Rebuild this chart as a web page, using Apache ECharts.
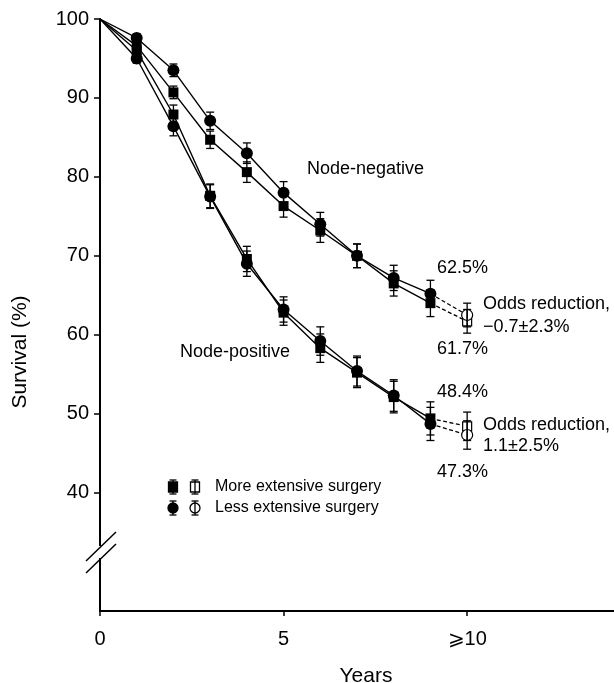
<!DOCTYPE html>
<html>
<head>
<meta charset="utf-8">
<script src="https://cdn.jsdelivr.net/npm/echarts@6/dist/echarts.min.js"></script>
<style>html,body{margin:0;padding:0;background:#fff}#c{width:614px;height:683px}</style>
</head>
<body>
<div id="c"></div>
<script>
// ---- data ----
const years = [0, 1, 2, 3, 4, 5, 6, 7, 8, 9];
const finalYear = 10;
const negLess = [100, 97.6, 93.5, 87.1, 83.0, 78.0, 74.0, 70.0, 67.2, 65.2];
const negMore = [100, 96.6, 90.7, 84.7, 80.6, 76.3, 73.2, 70.0, 66.5, 64.0];
const posLess = [100, 95.0, 86.4, 77.5, 69.0, 63.2, 59.2, 55.4, 52.3, 48.7];
const posMore = [100, 96.0, 87.9, 77.6, 69.6, 62.8, 58.3, 55.2, 52.1, 49.4];
const negLessFinal = 62.5, negMoreFinal = 61.7, posLessFinal = 47.3, posMoreFinal = 48.4;
const negErr = [0, 0.5, 0.8, 1.1, 1.3, 1.4, 1.5, 1.5, 1.6, 1.7];
const negErrFinal = 1.5;
const posErr = [0, 0.6, 1.2, 1.5, 1.6, 1.6, 1.8, 1.9, 2.0, 2.1];
const posErrFinal = 1.8;
const yTicks = [40, 50, 60, 70, 80, 90, 100];
const xTicks = [0, 5, 10];
const xTickLabels = {0: '0', 5: '5', 10: '\u2A7E10'};

const FONT = '"Liberation Sans", Arial, Helvetica, sans-serif';

function pts(arr) { return years.map((x, i) => [x, arr[i]]); }
function filledPts(arr) { return years.slice(1).map((x, i) => [x, arr[i + 1]]); }
function errPts(arr, err, fin, finErr) {
  const out = years.slice(1).map((x, i) => [x, arr[i + 1], err[i + 1]]);
  out.push([finalYear, fin, finErr]);
  return out;
}

const lineStyle = {color: '#000', width: 1.4};
function solid(arr) {
  return {type: 'line', data: pts(arr), symbol: 'none', lineStyle: lineStyle, z: 2, silent: true, animation: false};
}
function dashed(arr, fin) {
  return {type: 'line', data: [[9, arr[9]], [finalYear, fin]], symbol: 'none',
    lineStyle: {color: '#000', width: 1.3, type: [4, 2.5]}, z: 2, silent: true, animation: false};
}
function filled(arr, sym, size) {
  return {type: 'scatter', data: filledPts(arr), symbol: sym, symbolSize: size,
    itemStyle: {color: '#000', opacity: 1}, z: 4, silent: true, animation: false};
}
function open(fin, sym, size) {
  return {type: 'scatter', data: [[finalYear, fin]], symbol: sym, symbolSize: size,
    itemStyle: {color: '#fff', borderColor: '#000', borderWidth: 1.2, opacity: 1}, z: 4, silent: true, animation: false};
}
function errSeries(data) {
  return {
    type: 'custom', data: data, z: 5, silent: true, animation: false,
    renderItem: function (params, api) {
      const x = api.value(0), y = api.value(1), e = api.value(2);
      const top = api.coord([x, y + e]);
      const bot = api.coord([x, y - e]);
      const w = 4;
      const st = {stroke: '#000', lineWidth: 1.3};
      return {type: 'group', children: [
        {type: 'line', shape: {x1: top[0], y1: top[1], x2: bot[0], y2: bot[1]}, style: st},
        {type: 'line', shape: {x1: top[0] - w, y1: top[1], x2: top[0] + w, y2: top[1]}, style: st},
        {type: 'line', shape: {x1: bot[0] - w, y1: bot[1], x2: bot[0] + w, y2: bot[1]}, style: st}
      ]};
    }
  };
}

const chart = echarts.init(document.getElementById('c'), null, {renderer: 'canvas'});

function txt(x, y, s, size, extra) {
  return Object.assign({type: 'text', left: x, top: y, z: 10, silent: true,
    style: {text: s, font: size + 'px ' + FONT, fill: '#000'}}, extra || {});
}

const legendGraphics = [];
function legendIcon(cx, cy, shape, filledIcon) {
  const st = {stroke: '#000', lineWidth: 1.3, fill: filledIcon ? '#000' : '#fff'};
  const items = [];
  if (shape === 'rect') {
    items.push({type: 'rect', shape: {x: cx - 4.5, y: cy - 5, width: 9, height: 10}, style: st, z: 10, silent: true});
  } else {
    items.push({type: 'circle', shape: {cx: cx, cy: cy, r: 5}, style: st, z: 10, silent: true});
  }
  const l = {stroke: '#000', lineWidth: 1.3};
  items.push({type: 'line', shape: {x1: cx, y1: cy - 7, x2: cx, y2: cy + 7}, style: l, z: 11, silent: true});
  items.push({type: 'line', shape: {x1: cx - 3.5, y1: cy - 7, x2: cx + 3.5, y2: cy - 7}, style: l, z: 11, silent: true});
  items.push({type: 'line', shape: {x1: cx - 3.5, y1: cy + 7, x2: cx + 3.5, y2: cy + 7}, style: l, z: 11, silent: true});
  return items;
}
legendGraphics.push(...legendIcon(173, 487, 'rect', true));
legendGraphics.push(...legendIcon(195, 487, 'rect', false));
legendGraphics.push(...legendIcon(173, 508, 'circle', true));
legendGraphics.push(...legendIcon(195, 508, 'circle', false));

chart.setOption({
  animation: false,
  grid: {left: 100, right: 0, top: 19, bottom: 72, containLabel: false},
  xAxis: {
    type: 'value', min: 0, max: 14,
    axisLine: {lineStyle: {color: '#000', width: 2}},
    axisTick: {show: true, customValues: xTicks, length: 5, inside: false, lineStyle: {color: '#000', width: 1.5}},
    axisLabel: {customValues: xTicks, formatter: v => xTickLabels[v] !== undefined ? xTickLabels[v] : '',
      color: '#000', fontSize: 20, fontFamily: FONT, margin: 18},
    splitLine: {show: false}
  },
  yAxis: {
    type: 'value', min: 25, max: 100,
    axisLine: {show: true, lineStyle: {color: '#000', width: 2}},
    axisTick: {show: true, customValues: yTicks, length: 6, lineStyle: {color: '#000', width: 1.5}},
    axisLabel: {customValues: yTicks, color: '#000', fontSize: 20, fontFamily: FONT, margin: 11},
    splitLine: {show: false}
  },
  series: [
    solid(negLess), solid(negMore), solid(posLess), solid(posMore),
    dashed(negLess, negLessFinal), dashed(negMore, negMoreFinal),
    dashed(posLess, posLessFinal), dashed(posMore, posMoreFinal),
    filled(negMore, 'rect', 10), filled(posMore, 'rect', 10),
    filled(negLess, 'circle', 12), filled(posLess, 'circle', 12),
    open(negMoreFinal, 'rect', 9), open(posMoreFinal, 'rect', 9),
    open(negLessFinal, 'circle', 11), open(posLessFinal, 'circle', 11),
    errSeries(errPts(negLess, negErr, negLessFinal, negErrFinal)),
    errSeries(errPts(negMore, negErr, negMoreFinal, negErrFinal)),
    errSeries(errPts(posLess, posErr, posLessFinal, posErrFinal)),
    errSeries(errPts(posMore, posErr, posMoreFinal, posErrFinal))
  ],
  graphic: [
    // axis break
    {type: 'rect', shape: {x: 94, y: 546, width: 12, height: 12}, style: {fill: '#fff'}, z: 20, silent: true},
    {type: 'line', shape: {x1: 86, y1: 561, x2: 116, y2: 532}, style: {stroke: '#000', lineWidth: 1.5}, z: 21, silent: true},
    {type: 'line', shape: {x1: 86, y1: 573, x2: 116, y2: 544}, style: {stroke: '#000', lineWidth: 1.5}, z: 21, silent: true},
    // axis titles
    {type: 'text', x: 20, y: 352, rotation: Math.PI / 2, z: 10, silent: true,
      style: {text: 'Survival (%)', font: '21px ' + FONT, fill: '#000', align: 'center', verticalAlign: 'middle'}},
    {type: 'text', x: 366, y: 676, z: 10, silent: true,
      style: {text: 'Years', font: '21px ' + FONT, fill: '#000', align: 'center', verticalAlign: 'middle'}},
    // annotations
    txt(307, 160, 'Node-negative', 18),
    txt(180, 343, 'Node-positive', 18),
    txt(437, 259, '62.5%', 18),
    txt(483, 295, 'Odds reduction,', 18),
    txt(483, 318, '\u22120.7\u00B12.3%', 18),
    txt(437, 340, '61.7%', 18),
    txt(437, 383, '48.4%', 18),
    txt(483, 416, 'Odds reduction,', 18),
    txt(483, 437, '1.1\u00B12.5%', 18),
    txt(437, 463, '47.3%', 18),
    txt(215, 479, 'More extensive surgery', 16),
    txt(215, 500, 'Less extensive surgery', 16),
    ...legendGraphics
  ]
});
</script>
</body>
</html>
